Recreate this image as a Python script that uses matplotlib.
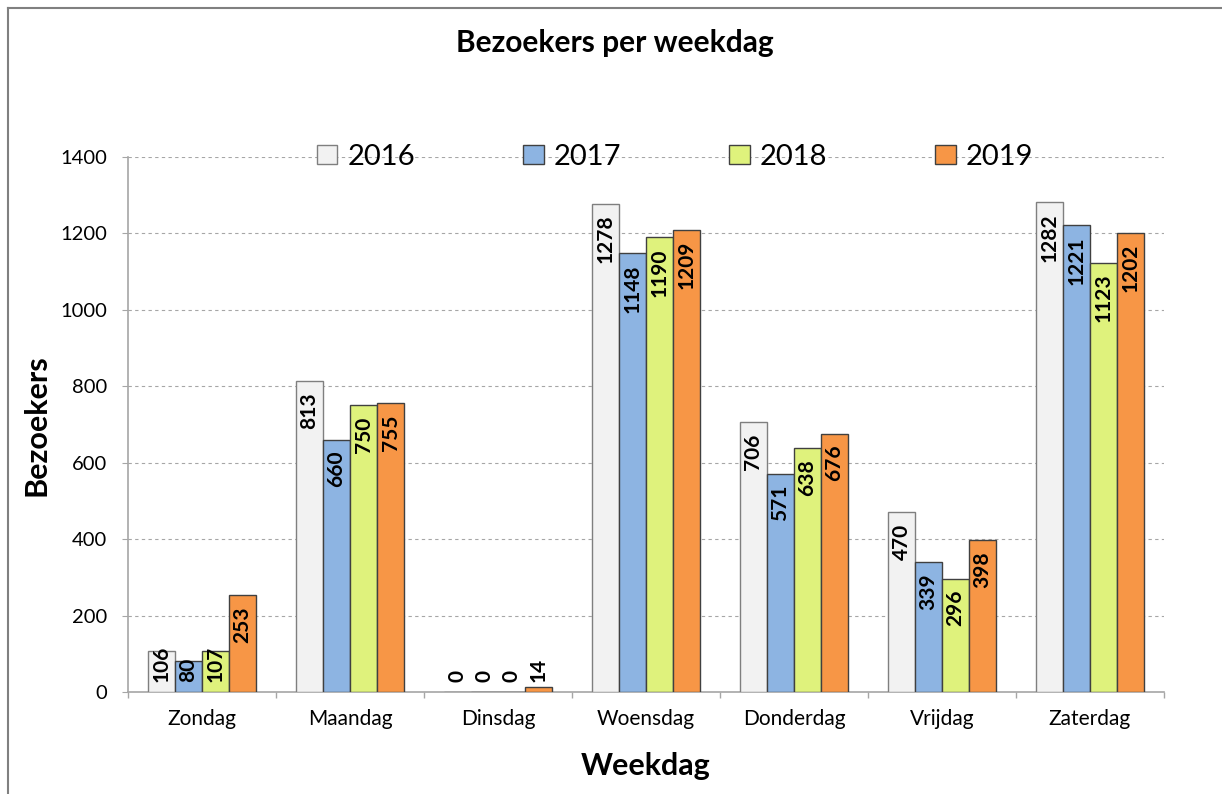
import matplotlib
matplotlib.use("Agg")
import matplotlib.pyplot as plt
import numpy as np
from matplotlib.lines import Line2D

plt.rcParams['font.family'] = ['Lato', 'DejaVu Sans']

dagen = ['Zondag', 'Maandag', 'Dinsdag', 'Woensdag', 'Donderdag', 'Vrijdag', 'Zaterdag']
jaren = ['2016', '2017', '2018', '2019']
v2016 = [106, 813, 0, 1278, 706, 470, 1282]
v2017 = [80, 660, 0, 1148, 571, 339, 1221]
v2018 = [107, 750, 0, 1190, 638, 296, 1123]
v2019 = [253, 755, 14, 1209, 676, 398, 1202]
reeksen = [v2016, v2017, v2018, v2019]
kleuren = ['#F2F2F2', '#8DB4E2', '#DFF27C', '#F79646']
randen = ['#7F7F7F', '#404040', '#404040', '#404040']

W, H = 1222, 794
fig = plt.figure(figsize=(W / 100, H / 100), dpi=100)
ax = fig.add_axes([128 / W, 1 - 692 / H, (1164 - 128) / W, (692 - 157) / H])

x = np.arange(len(dagen))
bw = 0.73 / 4
px_per_unit = (692 - 157) / 1400  # pixels per bezoeker

for i, (vals, kl, rd) in enumerate(zip(reeksen, kleuren, randen)):
    pos = x + (i - 1.5) * bw
    ax.bar(pos, vals, bw, color=kl, edgecolor=rd, linewidth=1.0, zorder=3)
    for xp, v in zip(pos, vals):
        lab = str(v)
        h = v * px_per_unit
        L = len(lab) * 11.3
        if h - 11 - L >= 10:
            ax.annotate(lab, (xp, v), xytext=(0, -11 * 0.72), textcoords='offset points',
                        rotation=90, ha='center', va='top', fontsize=15,
                        fontweight='bold', zorder=4)
        else:
            ax.annotate(lab, (xp, 0), xytext=(0, 10 * 0.72), textcoords='offset points',
                        rotation=90, ha='center', va='bottom', fontsize=15,
                        fontweight='bold', zorder=4)

ax.set_xlim(-0.5, len(dagen) - 0.5)
ax.set_ylim(0, 1400)
ax.set_yticks(np.arange(0, 1401, 200))
ax.set_xticks(x)
ax.set_xticklabels(dagen)
ax.set_xticks(np.arange(-0.5, len(dagen), 1), minor=True)
ax.tick_params(axis='x', which='major', length=0, pad=12, labelsize=15)
ax.tick_params(axis='x', which='minor', length=4.3, color='#A6A6A6', width=1)
ax.tick_params(axis='y', length=4.3, pad=10.5, color='#A6A6A6', labelsize=14.5)

for s in ['top', 'right']:
    ax.spines[s].set_visible(False)
for s in ['left', 'bottom']:
    ax.spines[s].set_color('#A6A6A6')
    ax.spines[s].set_linewidth(1.2)

ax.yaxis.grid(True, linestyle=(0, (3, 3)), color='#A6A6A6', linewidth=0.8, zorder=0)
ax.set_axisbelow(True)

handles = [plt.Rectangle((0, 0), 1, 1, facecolor=k, edgecolor=r, linewidth=1.0)
           for k, r in zip(kleuren, randen)]
ax.legend(handles, jaren, ncol=4, frameon=False, fontsize=21,
          loc='center left', bbox_to_anchor=(317 / W, 1 - 157 / H),
          bbox_transform=fig.transFigure, borderpad=0, borderaxespad=0,
          handlelength=0.7, handleheight=0.65, handletextpad=0.35,
          columnspacing=3.7)

fig.text(615 / W, 1 - 52 / H, 'Bezoekers per weekdag', ha='center', va='baseline',
         fontsize=21.5, fontweight='bold')
fig.text(36 / W, 1 - 425 / H, 'Bezoekers', rotation=90, ha='center', va='center',
         fontsize=22, fontweight='bold')
fig.text(646 / W, 1 - 775 / H, 'Weekdag', ha='center', va='baseline',
         fontsize=22, fontweight='bold')

# kader rond de grafiek
fig.add_artist(Line2D([8 / W, 1], [1 - 8 / H, 1 - 8 / H], color='#808080', linewidth=1.5))
fig.add_artist(Line2D([8 / W, 8 / W], [0, 1 - 8 / H], color='#808080', linewidth=1.5))

fig.savefig('out.png', dpi=100)
